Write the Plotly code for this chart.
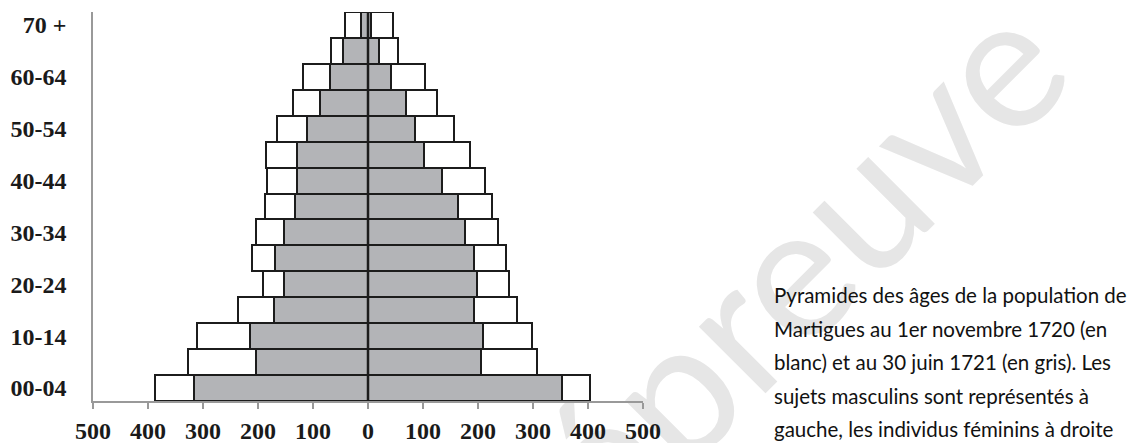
import plotly.graph_objects as go

ages = ["00-04", "05-09", "10-14", "15-19", "20-24", "25-29", "30-34", "35-39",
        "40-44", "45-49", "50-54", "55-59", "60-64", "65-69", "70 +"]
label_ages = ["00-04", "10-14", "20-24", "30-34", "40-44", "50-54", "60-64", "70 +"]

men_1720 = [387, 327, 311, 236, 191, 211, 204, 187, 184, 185, 165, 137, 118, 68, 41]
men_1721 = [316, 204, 215, 171, 152, 169, 152, 132, 129, 130, 111, 88, 70, 46, 13]
women_1720 = [404, 307, 298, 270, 256, 250, 237, 226, 213, 185, 157, 125, 103, 55, 45]
women_1721 = [352, 205, 209, 192, 198, 192, 176, 164, 134, 101, 85, 69, 42, 20, 5]

x_ticks = [-500, -400, -300, -200, -100, 0, 100, 200, 300, 400, 500]
x_ticktext = ["500", "400", "300", "200", "100", "0", "100", "200", "300", "400", "500"]

caption_lines = [
    "Pyramides des âges de la population de",
    "Martigues au 1er novembre 1720 (en",
    "blanc) et au 30 juin 1721 (en gris). Les",
    "sujets masculins sont représentés à",
    "gauche, les individus féminins à droite",
]

WHITE = "#ffffff"
GREY = "#b3b4b7"
EDGE = "#1c1c1c"

# plot area in pixels
L, R, T, B = 93, 643, 12, 401
W, H = R - L, B - T

def px(x):
    return (x - L) / W

def py(y):
    return (B - y) / H

fig = go.Figure()

def add_bar(vals, sign, color, name):
    fig.add_trace(go.Bar(
        y=ages, x=[sign * v for v in vals], orientation="h", name=name,
        marker=dict(color=color, line=dict(color=EDGE, width=2)),
        showlegend=False, hoverinfo="skip",
    ))

add_bar(men_1720, -1, WHITE, "Hommes 1720")
add_bar(women_1720, 1, WHITE, "Femmes 1720")
add_bar(men_1721, -1, GREY, "Hommes 1721")
add_bar(women_1721, 1, GREY, "Femmes 1721")

tickfont = dict(family="Liberation Serif", size=24, color="#1a1a1a", weight="bold")

annotations = []
for i, line in enumerate(caption_lines):
    annotations.append(dict(
        text=line, xref="paper", yref="paper",
        x=px(772), y=py(295 + i * 33.5), xanchor="left", yanchor="middle",
        align="left", showarrow=False,
        font=dict(family="Lato", size=20.5, color="#111111")))

wm_cx, wm_cy = 794, 260
shapes = [
    # watermark, drawn beneath axes and tick labels
    dict(type="rect", xref="paper", yref="paper", layer="below",
         x0=px(wm_cx - 2), x1=px(wm_cx + 2), y0=py(wm_cy + 2), y1=py(wm_cy - 2),
         line=dict(width=0), fillcolor="rgba(0,0,0,0)",
         label=dict(text="épreuve", textangle=-45, textposition="middle center",
                    font=dict(family="Lato", size=186, color="#e6e6e6"))),
    dict(type="line", xref="x", yref="paper", x0=0, x1=0, y0=0, y1=1,
         line=dict(color=EDGE, width=2.5)),
]

fig.update_layout(
    width=1143, height=443,
    margin=dict(l=L, r=1143 - R, t=T, b=443 - B, autoexpand=False),
    paper_bgcolor="white", plot_bgcolor="rgba(0,0,0,0)",
    barmode="overlay", bargap=0,
    xaxis=dict(
        range=[-500, 500], tickvals=x_ticks, ticktext=x_ticktext,
        ticks="outside", ticklen=6, tickcolor="#999999", tickwidth=1.5,
        showline=True, linecolor="#999999", linewidth=1.5,
        showgrid=False, zeroline=False, tickfont=tickfont,
        ticklabelstandoff=1, automargin=False,
    ),
    yaxis=dict(
        type="category", categoryorder="array", categoryarray=ages,
        tickvals=label_ages, ticktext=label_ages,
        ticks="", showline=True, linecolor="#999999", linewidth=1.5,
        showgrid=False, zeroline=False, tickfont=tickfont,
        ticklabelstandoff=20, range=[-0.5, 14.5], automargin=False,
    ),
    shapes=shapes,
    annotations=annotations,
)

fig.write_html(
    "out.html",
    config={"displayModeBar": False},
    post_script="document.body.style.margin='0';document.body.style.overflow='hidden';",
)
